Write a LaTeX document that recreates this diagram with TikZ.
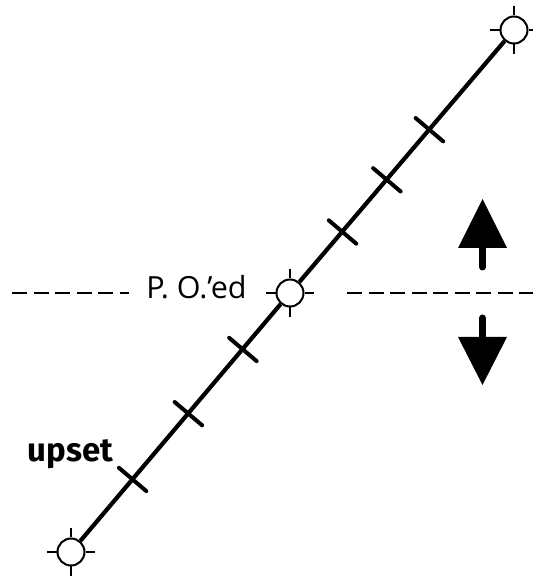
\documentclass[tikz,border=0pt]{standalone}
\usepackage{fontspec}
\setmainfont{Open Sans}
\newfontfamily\handfont{Fira Sans}
\usetikzlibrary{calc}

\begin{document}
\begin{tikzpicture}[x=1pt, y=1pt,
		pin/.style={circle, draw, line width=2pt, fill=white, minimum size=27pt, inner sep=0pt},
		scaleline/.style={line width=4.2pt},
		notch/.style={line width=4pt, line cap=round},
		dashline/.style={line width=2.5pt, dash pattern=on 15pt off 6.5pt},
		shaft/.style={line width=7pt, line cap=round}]
		\useasboundingbox (0,0) rectangle (533,576);

		% end points and middle of the scale
		\node[pin] (bot) at (71,24) {};
		\node[pin] (mid) at (290,283) {};
		\node[pin] (top) at (514,546) {};

		% crosshair ticks round each pin
		\foreach \p in {bot,mid,top} {
				\foreach \a in {0,90,180,270} {
						\draw[line width=2pt] (\p.\a) -- ++(\a:9.5pt);
					}
			}

		% the scale itself
		\draw[scaleline] (bot) -- (mid) -- (top);

		% notches across the scale
		\foreach \t in {0.139,0.265,0.388,0.613,0.713,0.809} {
				\coordinate (n) at ($(bot.center)!\t!(top.center)$);
				\draw[notch] ($(n)!18pt!90:(top.center)$) -- ($(n)!18pt!-90:(top.center)$);
			}

		% dashed level through the middle
		\node[anchor=base, inner sep=0pt, font=\fontsize{30.5}{32}\selectfont] (lbl) at (196.5,277) {P. O.’ed};
		\coordinate (dl) at (12,283);
		\coordinate (dla) at (129,283);
		\coordinate (dr) at (347,283);
		\coordinate (dra) at (533,283);
		\draw[dashline] (dl) -- (dla);
		\draw[dashline] (dr) -- (dra);

		% label at the lower end
		\node[anchor=base, inner sep=0pt, font=\handfont\bfseries\fontsize{33}{35}\selectfont] (low) at (70.5,114) {upset};

		% up and down arrows on the right
		\draw[shaft] (482.5,309) -- (482.5,328);
		\fill (458,328) -- (507,328) -- (482.5,377) -- cycle;
		\draw[shaft] (482.5,258) -- (482.5,239);
		\fill (458,239) -- (507,239) -- (482.5,191) -- cycle;
	\end{tikzpicture}
\end{document}
